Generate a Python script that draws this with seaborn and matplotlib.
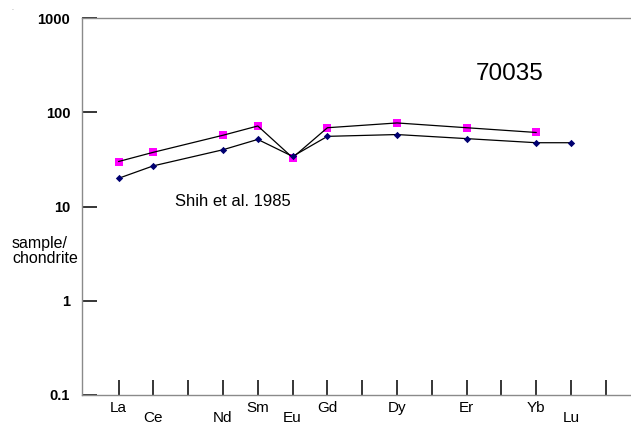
import numpy as np
import pandas as pd
import matplotlib
matplotlib.use("Agg")
import matplotlib.pyplot as plt
import matplotlib.transforms as mtransforms
import seaborn as sns

# REE order used on the x axis (Pm omitted)
ree_order = ["La", "Ce", "Pr", "Nd", "Sm", "Eu", "Gd", "Tb", "Dy", "Ho", "Er", "Tm", "Yb", "Lu"]

# Series 1 (magenta squares)
pink_elems = ["La", "Ce", "Nd", "Sm", "Eu", "Gd", "Dy", "Er", "Yb"]
pink_vals = [30, 37.6, 57, 71.5, 33, 68.5, 77, 68.5, 61]

# Series 2 (navy diamonds)
blue_elems = ["La", "Ce", "Nd", "Sm", "Eu", "Gd", "Dy", "Er", "Yb", "Lu"]
blue_vals = [19.9, 27, 40, 51.5, 34, 55.5, 58, 52.5, 47.5, 47.5]

# labelled ticks: (element, row) row 0 = upper, 1 = lower
label_elems = ["La", "Ce", "Nd", "Sm", "Eu", "Gd", "Dy", "Er", "Yb", "Lu"]
label_rows = [0, 1, 1, 0, 1, 0, 0, 0, 0, 1]

ytick_vals = [0.1, 1, 10, 100, 1000]
ytick_labels = ["0.1", "1", "10", "100", "1000"]

sns.set_theme(style="white")
plt.rcParams["font.family"] = ["Liberation Sans", "DejaVu Sans"]
plt.rcParams["text.color"] = "black"
plt.rcParams["xtick.color"] = "black"
plt.rcParams["ytick.color"] = "black"

df_p = pd.DataFrame({"pos": [ree_order.index(e) for e in pink_elems], "val": pink_vals})
df_b = pd.DataFrame({"pos": [ree_order.index(e) for e in blue_elems], "val": blue_vals})

fig = plt.figure(figsize=(6.31, 4.25), dpi=100)
ax = fig.add_axes([82 / 631, 1 - 395 / 425, 1 - 82 / 631, (395 - 18) / 425])

sns.lineplot(data=df_p, x="pos", y="val", color="black", linewidth=0.9, ax=ax, zorder=3)
sns.lineplot(data=df_b, x="pos", y="val", color="black", linewidth=0.9, ax=ax, zorder=3)
sns.scatterplot(data=df_p, x="pos", y="val", marker="s", color="#FF00FF", edgecolor="#FF00FF",
                s=30, linewidth=0, ax=ax, zorder=2)
sns.scatterplot(data=df_b, x="pos", y="val", marker="D", color="#000070", edgecolor="#000070",
                s=14, linewidth=0, ax=ax, zorder=4)

ax.set_yscale("log")
ax.set_ylim(0.1, 1000)
ax.set_xlim(-1.049, 14.72)
ax.set_xlabel("")
ax.set_ylabel("")

ax.set_yticks(ytick_vals)
ax.set_yticklabels(ytick_labels, fontsize=10.5, fontweight="bold", color="black")
ax.yaxis.set_minor_locator(matplotlib.ticker.NullLocator())
ax.tick_params(axis="y", direction="in", length=10.5, width=1.1, color="black", pad=8.5, left=True)

ax.set_xticks(np.arange(15))
ax.set_xticklabels([])
ax.tick_params(axis="x", direction="in", length=10.5, width=1.1, color="black", bottom=True)

for side in ["left", "top", "bottom"]:
    ax.spines[side].set_color("#8a8a8a")
    ax.spines[side].set_linewidth(1.0)
ax.spines["right"].set_visible(False)

trans = mtransforms.blended_transform_factory(ax.transData, ax.transAxes)
for e, r in zip(label_elems, label_rows):
    off = mtransforms.offset_copy(trans, fig=fig, x=0, y=-(12.2 + 7.3 * r), units="points")
    ax.text(ree_order.index(e), 0, e, transform=off, ha="center", va="baseline", fontsize=11,
            color="black")

ax.text(0.7787, 0.8355, "70035", transform=ax.transAxes, ha="center", va="baseline",
        fontsize=17.5, color="black")
ax.text(0.1694, 0.502, "Shih et al. 1985", transform=ax.transAxes, ha="left", va="baseline",
        fontsize=12, color="black")

fig.text(12 / 631, 1 - 263 / 425, "sample/\nchondrite", ha="left", va="baseline",
         fontsize=11.5, linespacing=1.0, color="black")
fig.text(11 / 631, 1 - 8 / 425, ".", ha="left", va="center", fontsize=5, color="#888888")

fig.savefig("out.png", dpi=100)
